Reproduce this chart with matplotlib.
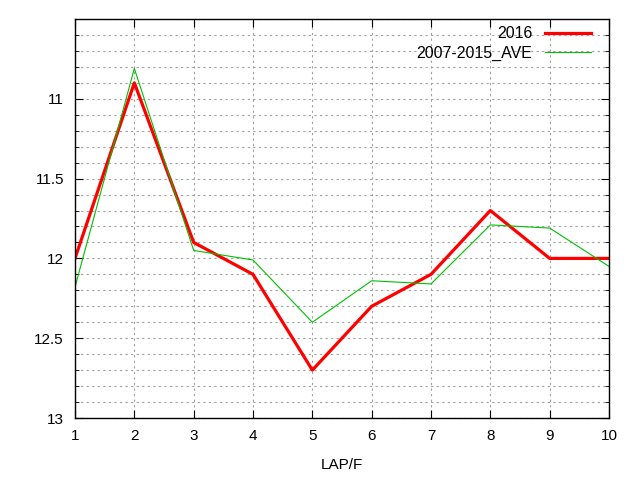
import matplotlib
matplotlib.use("Agg")
import matplotlib.pyplot as plt
from matplotlib.ticker import MultipleLocator

laps = [1, 2, 3, 4, 5, 6, 7, 8, 9, 10]
y2016 = [12.0, 10.9, 11.9, 12.1, 12.7, 12.3, 12.1, 11.7, 12.0, 12.0]
yave = [12.18, 10.81, 11.95, 12.01, 12.40, 12.14, 12.16, 11.79, 11.81, 12.05]
ytick_vals = [11, 11.5, 12, 12.5, 13]
ytick_labels = ["11", "11.5", "12", "12.5", "13"]

plt.rcParams['font.family'] = ['Liberation Sans', 'DejaVu Sans']
fig = plt.figure(figsize=(6.4, 4.8), dpi=100)
ax = fig.add_axes([75/640, 1-418/480, (609-75)/640, (418-19)/480])

ax.plot(laps, y2016, color='#ff0000', lw=2.3, label='2016')
ax.plot(laps, yave, color='#00c000', lw=0.8, label='2007-2015_AVE')

ax.set_xlim(1, 10)
ax.set_ylim(13, 10.5)
ax.set_xticks(laps)
ax.set_yticks(ytick_vals)
ax.set_yticklabels(ytick_labels)
ax.yaxis.set_minor_locator(MultipleLocator(0.1))
ax.grid(True, which='both', color='#a0a0a0', linestyle=(0, (2, 3)), lw=0.8)
ax.tick_params(which='major', direction='in', length=6, top=True, right=True, labelsize=11, pad=8)
ax.tick_params(which='minor', direction='in', length=3, top=True, right=True)
for s in ax.spines.values():
    s.set_linewidth(1.0)
ax.set_xlabel('LAP/F', fontsize=11, labelpad=11)

leg = ax.legend(loc='upper right', frameon=False, markerfirst=False, fontsize=11.5,
                handlelength=2.9, handletextpad=0.8, borderaxespad=0.0, labelspacing=0.3,
                bbox_to_anchor=(0.979, 0.998))
for t in leg.get_texts():
    t.set_ha('right')

fig.savefig('out.png', dpi=100)
